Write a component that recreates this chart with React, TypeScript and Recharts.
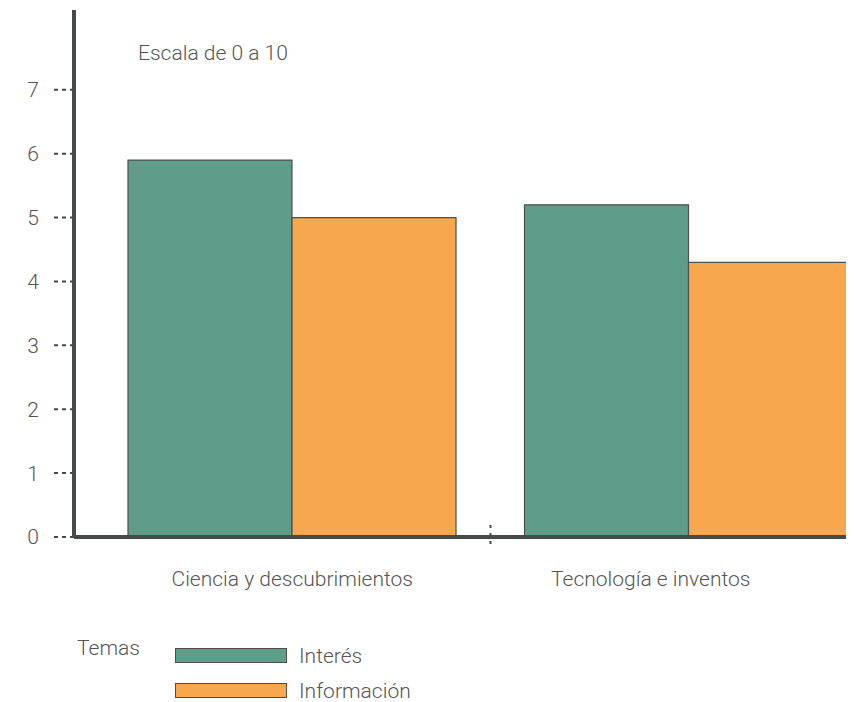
import { Bar, BarChart, XAxis, YAxis } from 'recharts'

const categories = ['Ciencia y descubrimientos', 'Tecnología e inventos']
const interes = [5.9, 5.2]
const informacion = [5.0, 4.3]
const yTicks = [0, 1, 2, 3, 4, 5, 6, 7]

const seriesNames = ['Interés', 'Información']
const seriesColors = ['#5f9c8b', '#f7a84f']

const data = categories.map((name, i) => ({
  name,
  interes: interes[i],
  informacion: informacion[i]
}))

const textColor = '#555'
const axisColor = '#464b49'
const font = 'Roboto, "Liberation Sans", sans-serif'
const fontSize = 21

function CategoryTick(props: any) {
  const { x, y, payload, index } = props
  const shift = index === 1 ? -38 : 0
  const half = payload?.offset ?? 0
  return (
    <g>
      {index === 0 && half > 0 && (
        <line
          x1={x + half}
          x2={x + half}
          y1={y - 12}
          y2={y + 9}
          stroke={axisColor}
          strokeWidth={2}
          strokeDasharray="3 5"
        />
      )}
      <text x={x + shift} y={y + 49} textAnchor="middle" fill={textColor} fontSize={fontSize} fontWeight={300} fontFamily={font}>
        {payload.value}
      </text>
    </g>
  )
}

export default function App() {
  return (
    <div style={{ position: 'relative', width: 846, height: 694, overflow: 'hidden', fontFamily: font }}>
      <BarChart
        width={880}
        height={600}
        data={data}
        margin={{ top: 2, right: 1, bottom: 1, left: 0 }}
        barGap={0}
        barCategoryGap={34}
      >
        <XAxis
          dataKey="name"
          height={70}
          padding={{ left: 20, right: 0 }}
          axisLine={{ stroke: axisColor, strokeWidth: 4 }}
          tickLine={false}
          tickSize={0}
          tickMargin={0}
          tick={<CategoryTick />}
          interval={0}
        />
        <YAxis
          width={66}
          domain={[0, 8.25]}
          ticks={yTicks}
          allowDataOverflow
          axisLine={{ stroke: axisColor, strokeWidth: 4 }}
          tickLine={{ stroke: axisColor, strokeWidth: 2, strokeDasharray: '4 4' }}
          tickSize={20}
          tickMargin={15}
          tick={{ fill: textColor, fontSize, fontWeight: 300, fontFamily: font }}
        />
        <Bar dataKey="interes" name={seriesNames[0]} fill={seriesColors[0]} stroke="#4d4f4e" strokeWidth={1.2} isAnimationActive={false} />
        <Bar dataKey="informacion" name={seriesNames[1]} fill={seriesColors[1]} stroke="#4d4f4e" strokeWidth={1.2} isAnimationActive={false} />
      </BarChart>
      <div style={{ position: 'absolute', left: 130, top: 33, fontSize, fontWeight: 300, color: textColor }}>Escala de 0 a 10</div>
      <div style={{ position: 'absolute', left: 69, top: 628, fontSize, fontWeight: 300, color: textColor }}>Temas</div>
      {seriesNames.map((s, i) => (
        <div key={s} style={{ position: 'absolute', left: 167, top: 635 + i * 35, height: 25, display: 'flex', alignItems: 'center' }}>
          <div style={{ width: 110, height: 13, background: seriesColors[i], border: '1px solid #4d4f4e' }} />
          <span style={{ marginLeft: 12, fontSize, fontWeight: 300, color: textColor }}>{s}</span>
        </div>
      ))}
    </div>
  )
}
